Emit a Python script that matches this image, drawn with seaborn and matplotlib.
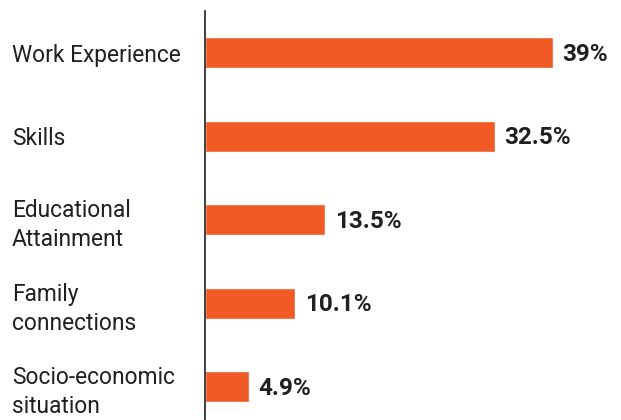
import pandas as pd
import matplotlib
matplotlib.use("Agg")
import matplotlib.pyplot as plt
import seaborn as sns

# Data
categories = ["Work Experience", "Skills", "Educational\nAttainment",
              "Family\nconnections", "Socio-economic\nsituation"]
values = [39, 32.5, 13.5, 10.1, 4.9]
value_labels = ["39%", "32.5%", "13.5%", "10.1%", "4.9%"]

df = pd.DataFrame({"factor": categories, "share": values})

sns.set_style("white")
plt.rcParams["font.family"] = ["Roboto", "DejaVu Sans"]

fig = plt.figure(figsize=(6.21, 4.20), dpi=100)
ax = fig.add_axes([205 / 621, 0, 416 / 621, 409 / 420])

sns.barplot(data=df, y="factor", x="share", orient="h", color="#F15A24",
            saturation=1, width=0.37, ax=ax)

ax.set_xlim(0, 416 / 8.92)
ax.set_ylim(4.4, -0.5)
ax.set_xlabel("")
ax.set_ylabel("")
ax.set_xticks([])

for s in ["top", "right", "bottom"]:
    ax.spines[s].set_visible(False)
ax.spines["left"].set_color("#231f20")
ax.spines["left"].set_linewidth(1.2)

# left-aligned category labels near the figure edge
ax.tick_params(axis="y", length=0, pad=193 * 72 / 100)
for lab in ax.get_yticklabels():
    lab.set_horizontalalignment("left")
    lab.set_fontsize(16.4)
    lab.set_color("#231f20")
    lab.set_linespacing(1.33)

# value labels at bar ends
for i, (v, t) in enumerate(zip(values, value_labels)):
    ax.annotate(t, (v, i), xytext=(7, -1), textcoords="offset points",
                ha="left", va="center", fontsize=17.5, fontweight="bold",
                color="#231f20")

fig.savefig("out.png", dpi=100)
